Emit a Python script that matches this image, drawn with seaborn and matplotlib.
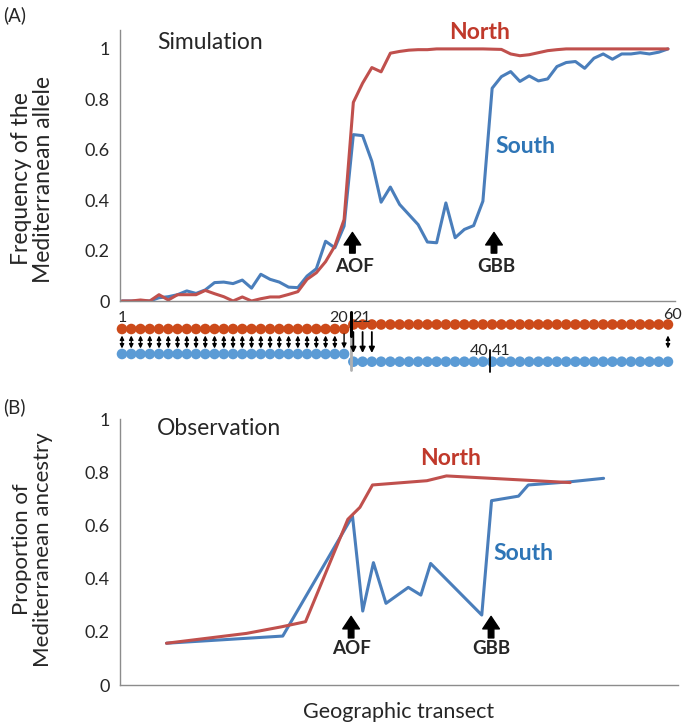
import numpy as np
import seaborn as sns
import matplotlib.pyplot as plt

# simulated allele frequency along the 60 demes
sites = np.arange(1, 61)
north_sim = [0, 0, 0.004, 0, 0.025, 0.004, 0.025, 0.025, 0.025, 0.042,
             0.029, 0.017, 0, 0.016, 0, 0.009, 0.016, 0.016, 0.026, 0.037,
             0.086, 0.112, 0.156, 0.218, 0.323, 0.788, 0.864, 0.926, 0.909, 0.983,
             0.99, 0.995, 0.997, 0.997, 1.0, 1.0, 1.0, 1.0, 1.0, 1.0,
             0.999, 0.998, 0.98, 0.973, 0.977, 0.985, 0.993, 0.997, 1.0, 1.0,
             1.0, 1.0, 1.0, 1.0, 1.0, 1.0, 1.0, 1.0, 1.0, 1.0]
south_sim = [0, 0, 0, 0, 0.013, 0.017, 0.025, 0.04, 0.03, 0.044,
             0.073, 0.075, 0.069, 0.083, 0.051, 0.106, 0.086, 0.075, 0.055, 0.053,
             0.099, 0.128, 0.237, 0.211, 0.297, 0.66, 0.656, 0.554, 0.392, 0.452,
             0.383, 0.343, 0.303, 0.234, 0.231, 0.389, 0.251, 0.284, 0.299, 0.396,
             0.844, 0.89, 0.91, 0.871, 0.893, 0.873, 0.881, 0.93, 0.946, 0.95,
             0.923, 0.963, 0.98, 0.959, 0.98, 0.98, 0.985, 0.98, 0.987, 1.0]

# observed ancestry along the transect
obs_north_x = [1, 2.72, 3.48, 3.99, 4.9, 5.16, 5.43, 6.6, 7.02, 9.68]
obs_north = [0.157, 0.194, 0.219, 0.238, 0.623, 0.668, 0.752, 0.768, 0.786, 0.761]
obs_south_x = [1, 3.5, 5.0, 5.22, 5.45, 5.72, 6.2, 6.47, 6.68, 7.78, 7.99, 8.57, 8.78, 9.68, 10.4]
obs_south = [0.157, 0.184, 0.635, 0.278, 0.46, 0.307, 0.367, 0.338, 0.457, 0.263,
             0.693, 0.71, 0.752, 0.764, 0.777]

# deme schematic under panel A
west_demes = np.arange(1, 26)
east_demes = np.arange(26, 61)
two_way_demes = list(range(1, 25)) + [60]
one_way_demes = [26, 27, 28]

ytick_vals = [0, 0.2, 0.4, 0.6, 0.8, 1]
ytick_labels = ['0', '0.2', '0.4', '0.6', '0.8', '1']

RED = '#C0504D'
BLUE = '#4A7EBB'
GREY = '#8C8C8C'

sns.set_style('white')
plt.rcParams['font.family'] = ['Lato', 'DejaVu Sans']

fig = plt.figure(figsize=(6.85, 7.23), dpi=100)
W, H = 685, 723


def box(x0, x1, y_top, y_bot):
    return [x0 / W, 1 - y_bot / H, (x1 - x0) / W, (y_bot - y_top) / H]


def style_axes(ax):
    for s in ['top', 'right']:
        ax.spines[s].set_visible(False)
    for s in ['left', 'bottom']:
        ax.spines[s].set_color(GREY)
        ax.spines[s].set_linewidth(1)
    ax.tick_params(axis='both', colors=GREY, labelcolor='#262626', labelsize=13,
                   direction='out', length=4, width=0.8)
    ax.tick_params(axis='x', labelbottom=False)
    ax.set_yticks(ytick_vals)
    ax.set_yticklabels(ytick_labels)


arrow_style = 'simple,head_width=1.2,head_length=0.9,tail_width=0.4'

# ---- panel A
ax1 = fig.add_axes(box(120, 675, 30, 301))
sns.lineplot(x=sites, y=south_sim, color=BLUE, lw=2.2, ax=ax1)
sns.lineplot(x=sites, y=north_sim, color=RED, lw=2.2, ax=ax1)
ax1.set_xlim(0.784, 60.76)
ax1.set_ylim(0, 1.075)
style_axes(ax1)
ax1.set_xticks(sites)
ax1.set_ylabel('Frequency of the\nMediterranean allele', fontsize=16.5, va='center',
               linespacing=1.05)
ax1.yaxis.set_label_coords(-0.157, 0.45)

ax1.text(4.78, 1.024, 'Simulation', fontsize=16.5, va='center', ha='left')
ax1.text(39.6, 1.067, 'North', fontsize=16.5, fontweight='bold', color='#C0392B', ha='center', va='center')
ax1.text(44.6, 0.611, 'South', fontsize=16.5, fontweight='bold', color='#2E75B6', ha='center', va='center')
for xa, lab in [(25.9, 'AOF'), (41.2, 'GBB')]:
    ax1.annotate('', xy=(xa, 0.272), xytext=(xa, 0.19),
                 arrowprops=dict(arrowstyle=arrow_style, color='black', shrinkA=0, shrinkB=0))
    ax1.text(xa + 0.2, 0.137, lab, fontsize=13.5, fontweight='bold', ha='center', va='center')

# ---- deme schematic
axs = fig.add_axes(box(120, 675, 305, 385), sharex=ax1)
axs.set_ylim(385, 305)
axs.axis('off')
sns.scatterplot(x=west_demes, y=[329] * len(west_demes), color='#CC4A1A', s=58,
                edgecolor='none', ax=axs, legend=False, clip_on=False)
sns.scatterplot(x=east_demes, y=[324.5] * len(east_demes), color='#CC4A1A', s=58,
                edgecolor='none', ax=axs, legend=False, clip_on=False)
sns.scatterplot(x=west_demes, y=[354] * len(west_demes), color='#5B9BD5', s=58,
                edgecolor='none', ax=axs, legend=False, clip_on=False)
sns.scatterplot(x=east_demes, y=[361.7] * len(east_demes), color='#5B9BD5', s=58,
                edgecolor='none', ax=axs, legend=False, clip_on=False)
for d in two_way_demes:
    axs.annotate('', xy=(d, 348.5), xytext=(d, 335.5),
                 arrowprops=dict(arrowstyle='<|-|>', color='black', lw=1.0,
                                 mutation_scale=6, shrinkA=0, shrinkB=0))
axs.annotate('', xy=(25, 348.5), xytext=(25, 334),
             arrowprops=dict(arrowstyle='-|>', color='black', lw=1.0,
                             mutation_scale=7, shrinkA=0, shrinkB=0))
for d in one_way_demes:
    axs.annotate('', xy=(d, 353), xytext=(d, 332),
                 arrowprops=dict(arrowstyle='-|>', color='black', lw=1.3,
                                 mutation_scale=8, shrinkA=0, shrinkB=0))
axs.plot([25.7, 25.7], [335, 370], color='#B0B0B0', lw=2, clip_on=False)
axs.plot([25.7, 25.7], [312, 336], color='black', lw=2.2, clip_on=False)
axs.plot([40.8, 40.8], [350, 372], color='black', lw=1.3, clip_on=False)
axs.text(1, 318, '1', fontsize=11.5, ha='center', va='center')
axs.text(25.4, 318, '20', fontsize=11.5, ha='right', va='center')
axs.text(25.9, 318, '21', fontsize=11.5, ha='left', va='center')
axs.text(60.5, 315, '60', fontsize=11.5, ha='center', va='center')
axs.text(40.6, 351, '40', fontsize=11.5, ha='right', va='center')
axs.text(40.95, 351, '41', fontsize=11.5, ha='left', va='center')

# ---- panel B
ax2 = fig.add_axes(box(120, 678, 419, 685))
sns.lineplot(x=obs_south_x, y=obs_south, color=BLUE, lw=2.2, sort=False, ax=ax2)
sns.lineplot(x=obs_north_x, y=obs_north, color=RED, lw=2.2, sort=False, ax=ax2)
ax2.set_xlim(0, 12)
ax2.set_ylim(0, 1)
style_axes(ax2)
ax2.set_xticks(range(0, 13))
ax2.tick_params(axis='x', length=5)
ax2.set_ylabel('Proportion of\nMediterranean ancestry', fontsize=16, va='center',
               linespacing=1.05)
ax2.yaxis.set_label_coords(-0.157, 0.51)
ax2.set_xlabel('Geographic transect', fontsize=15.5, va='center')
ax2.xaxis.set_label_coords(0.5, -0.1)

ax2.text(0.8, 0.966, 'Observation', fontsize=16.5, va='center', ha='left')
ax2.text(7.1, 0.853, 'North', fontsize=16.5, fontweight='bold', color='#C0392B', ha='center', va='center')
ax2.text(8.67, 0.496, 'South', fontsize=16.5, fontweight='bold', color='#2E75B6', ha='center', va='center')
for xa, lab in [(4.97, 'AOF'), (7.98, 'GBB')]:
    ax2.annotate('', xy=(xa, 0.258), xytext=(xa, 0.177),
                 arrowprops=dict(arrowstyle=arrow_style, color='black', shrinkA=0, shrinkB=0))
    ax2.text(xa, 0.137, lab, fontsize=13.5, fontweight='bold', ha='center', va='center')

fig.text(3 / W, 1 - 15 / H, '(A)', fontsize=13.5, ha='left', va='center')
fig.text(3 / W, 1 - 407 / H, '(B)', fontsize=13.5, ha='left', va='center')

fig.savefig('out.png', dpi=100)
